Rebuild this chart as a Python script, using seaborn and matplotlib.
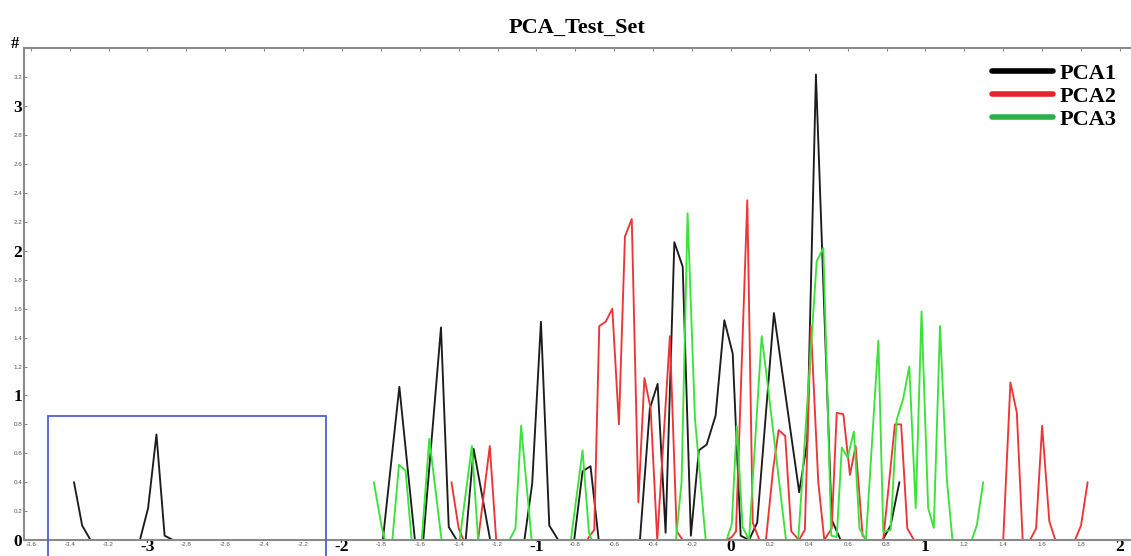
import numpy as np
import pandas as pd
import matplotlib
matplotlib.use("Agg")
import matplotlib.pyplot as plt
from matplotlib.lines import Line2D
from matplotlib.patches import Rectangle
import seaborn as sns

# ---- frequency curves of the three principal components (vertices) ----
pca1_x = [-3.378, -3.336, -3.293, -3.039, -2.997, -2.954, -2.912, -2.869,
          -1.790, -1.705, -1.625, -1.582, -1.491, -1.451, -1.410, -1.364,
          -1.323, -1.238, -1.062, -1.022, -0.977, -0.934, -0.888, -0.806,
          -0.763, -0.722, -0.680, -0.468, -0.417, -0.377, -0.336, -0.291,
          -0.248, -0.206, -0.165, -0.125, -0.079, -0.034, 0.009, 0.050,
          0.093, 0.135, 0.221, 0.351, 0.392, 0.437, 0.518, 0.564,
          0.780, 0.821, 0.866]
pca1_y = [0.40, 0.10, 0.00, 0.00, 0.22, 0.73, 0.03, 0.00,
          0.00, 1.06, 0.00, 0.00, 1.47, 0.09, 0.00, 0.00,
          0.63, 0.00, 0.00, 0.39, 1.51, 0.10, 0.00, 0.00,
          0.475, 0.51, 0.00, 0.00, 0.91, 1.08, 0.05, 2.06,
          1.89, 0.03, 0.62, 0.66, 0.86, 1.52, 1.29, 0.03,
          0.00, 0.12, 1.57, 0.33, 0.68, 3.22, 0.14, 0.00,
          0.00, 0.10, 0.40]

pca2_x = [-1.437, -1.400, -1.375, -1.300, -1.240, -1.207, -0.740, -0.725,
          -0.703, -0.677, -0.644, -0.610, -0.576, -0.545, -0.510, -0.476,
          -0.445, -0.413, -0.379, -0.314, -0.279, -0.248, -0.022, 0.004,
          0.026, 0.084, 0.112, 0.146, 0.180, 0.216, 0.245, 0.279,
          0.310, 0.350, 0.380, 0.411, 0.449, 0.480, 0.518, 0.544,
          0.578, 0.612, 0.641, 0.677, 0.700, 0.783, 0.843, 0.875,
          0.907, 0.941, 1.400, 1.437, 1.470, 1.500, 1.538, 1.569,
          1.600, 1.637, 1.668, 1.769, 1.800, 1.834]
pca2_y = [0.40, 0.08, 0.00, 0.00, 0.65, 0.00, 0.00, 0.03,
          0.07, 1.48, 1.51, 1.60, 0.80, 2.10, 2.22, 0.26,
          1.12, 0.91, 0.00, 1.41, 0.06, 0.00, 0.00, 0.02,
          0.06, 2.35, 0.12, 0.00, 0.00, 0.48, 0.76, 0.72,
          0.06, 0.00, 0.07, 1.48, 0.40, 0.00, 0.08, 0.88,
          0.87, 0.45, 0.65, 0.03, 0.00, 0.00, 0.80, 0.80,
          0.08, 0.00, 0.00, 1.09, 0.88, 0.00, 0.00, 0.08,
          0.79, 0.13, 0.00, 0.00, 0.10, 0.40]

pca3_x = [-1.836, -1.796, -1.779, -1.741, -1.707, -1.673, -1.642, -1.590,
          -1.551, -1.488, -1.395, -1.332, -1.300, -1.139, -1.108, -1.079,
          -1.025, -0.823, -0.763, -0.730, -0.715, -0.283, -0.254, -0.223,
          -0.185, -0.130, -0.022, 0.004, 0.030, 0.060, 0.093, 0.158,
          0.192, 0.283, 0.346, 0.441, 0.475, 0.516, 0.544, 0.570,
          0.600, 0.632, 0.661, 0.694, 0.758, 0.783, 0.821, 0.852,
          0.886, 0.917, 0.950, 0.980, 1.014, 1.043, 1.075, 1.110,
          1.139, 1.238, 1.264, 1.297]
pca3_y = [0.40, 0.09, 0.00, 0.00, 0.52, 0.48, 0.00, 0.00,
          0.70, 0.00, 0.00, 0.65, 0.00, 0.00, 0.08, 0.79,
          0.00, 0.00, 0.62, 0.05, 0.00, 0.00, 0.40, 2.26,
          0.84, 0.00, 0.00, 0.11, 0.79, 0.09, 0.00, 1.41,
          1.04, 0.00, 0.00, 1.93, 2.02, 0.03, 0.02, 0.64,
          0.57, 0.75, 0.08, 0.00, 1.38, 0.056, 0.07, 0.83,
          0.98, 1.20, 0.22, 1.58, 0.22, 0.084, 1.48, 0.42,
          0.00, 0.00, 0.10, 0.40]

series_names = ["PCA1", "PCA2", "PCA3"]
line_colors = {"PCA1": "#1c1c1c", "PCA2": "#ee3535", "PCA3": "#3be23b"}
legend_colors = {"PCA1": "#000000", "PCA2": "#e8232b", "PCA3": "#27b34a"}

# tick positions / labels
x_small_ticks = [-3.6, -3.4, -3.2, -2.8, -2.6, -2.4, -2.2, -1.8, -1.6, -1.4,
                 -1.2, -0.8, -0.6, -0.4, -0.2, 0.2, 0.4, 0.6, 0.8, 1.2,
                 1.4, 1.6, 1.8]
x_big_ticks = [-3, -2, -1, 0, 1, 2]
y_small_ticks = [0.2, 0.4, 0.6, 0.8, 1.2, 1.4, 1.6, 1.8, 2.2, 2.4, 2.6,
                 2.8, 3.2]
y_big_ticks = [0, 1, 2, 3]

# highlighted region (x from, x to, height)
box_x0, box_x1, box_top = -3.513, -2.082, 0.857

frames = []
for name, xs, ys in zip(series_names, [pca1_x, pca2_x, pca3_x],
                        [pca1_y, pca2_y, pca3_y]):
    frames.append(pd.DataFrame({"value": xs, "count": ys, "series": name}))
df = pd.concat(frames, ignore_index=True)

sns.set_theme(style="white")
plt.rcParams["font.family"] = ["Liberation Serif", "DejaVu Serif"]
plt.rcParams["text.color"] = "black"

fig = plt.figure(figsize=(11.31, 5.56), dpi=100)
ax = fig.add_axes([24 / 1131, 16 / 556, 1 - 24 / 1131, 491.5 / 556])

sns.lineplot(data=df, x="value", y="count", hue="series",
             palette=line_colors, sort=False, estimator=None,
             linewidth=1.35, legend=False, ax=ax)

ax.set_xlim(-3.635, 2.057)
ax.set_ylim(0.006, 3.4)
ax.set_xlabel("")
ax.set_ylabel("")

spine_col = "#8a8a8a"
for side in ["left", "bottom", "top"]:
    ax.spines[side].set_color(spine_col)
    ax.spines[side].set_linewidth(1.5)
    ax.spines[side].set_visible(True)
    ax.spines[side].set_zorder(4)
ax.spines["right"].set_visible(False)

small_font = {"family": "Liberation Sans", "size": 4.5, "color": "#555555"}
big_font = {"family": "Liberation Serif", "size": 12.5, "weight": "bold",
            "color": "#000000"}

ax.set_xticks(x_small_ticks)
ax.set_xticklabels([f"{v:g}" for v in x_small_ticks], fontdict=small_font)
ax.set_xticks(x_big_ticks, minor=True)
ax.set_xticklabels([f"{v:g}" for v in x_big_ticks], minor=True,
                   fontdict=big_font)
ax.set_yticks(y_small_ticks)
ax.set_yticklabels([f"{v:g}" for v in y_small_ticks], fontdict=small_font)
ax.set_yticks(y_big_ticks, minor=True)
ax.set_yticklabels([f"{v:g}" for v in y_big_ticks], minor=True,
                   fontdict=big_font)

ax.tick_params(axis="both", which="both", direction="in", length=2.5,
               width=0.8, color=spine_col, pad=1.2)
ax.tick_params(axis="x", which="minor", pad=-0.5)
ax.tick_params(axis="x", which="both", top=True, labeltop=False)
ax.tick_params(axis="y", which="both", left=True, right=False)

ax.add_patch(Rectangle((box_x0, -0.15), box_x1 - box_x0, box_top + 0.15,
                       fill=False, edgecolor="#4f5fd6", linewidth=1.3,
                       clip_on=False, zorder=5))

ax.set_title("PCA_Test_Set", fontsize=16, fontweight="bold", pad=11,
             color="black")
fig.text(15 / 1131, 1 - 44 / 556, "#", ha="center", va="center",
         fontsize=12, fontweight="bold", color="black")

handles = [Line2D([], [], color=legend_colors[n], linewidth=4) for n in series_names]
leg = ax.legend(handles, series_names, loc="upper left",
                bbox_to_anchor=(981 / 1131, 1 - 52 / 556),
                bbox_transform=fig.transFigure, frameon=False, borderpad=0,
                handlelength=2.75, handletextpad=0.3, labelspacing=0.12,
                prop={"family": "Liberation Serif", "size": 16,
                      "weight": "bold"})
for t in leg.get_texts():
    t.set_color("black")

fig.savefig("out.png", dpi=100)
